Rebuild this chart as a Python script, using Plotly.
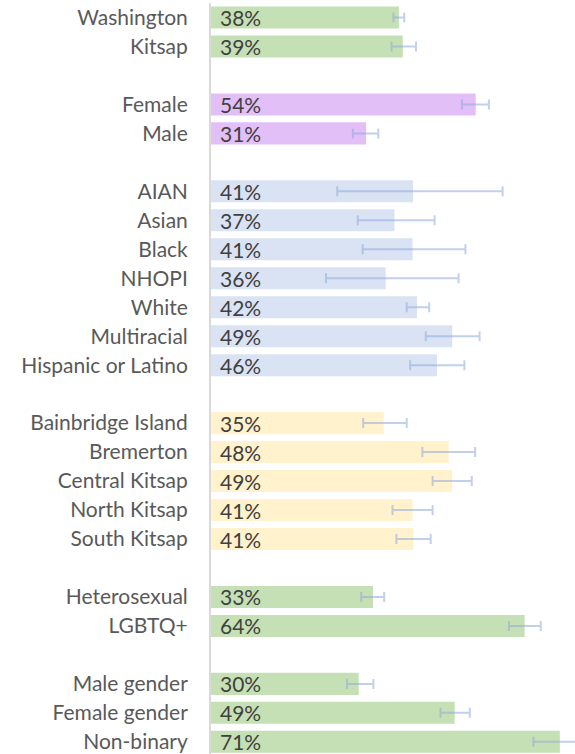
import plotly.graph_objects as go

# Groups of categories (a blank row separates groups)
groups = [
    ["Washington", "Kitsap"],
    ["Female", "Male"],
    ["AIAN", "Asian", "Black", "NHOPI", "White", "Multiracial", "Hispanic or Latino"],
    ["Bainbridge Island", "Bremerton", "Central Kitsap", "North Kitsap", "South Kitsap"],
    ["Heterosexual", "LGBTQ+"],
    ["Male gender", "Female gender", "Non-binary"],
]
values = [
    [38.4, 39.2],
    [54.1, 31.7],
    [41.3, 37.5, 41.2, 35.7, 42.1, 49.3, 46.2],
    [35.3, 48.6, 49.3, 41.2, 41.4],
    [33.1, 64.1],
    [30.2, 49.8, 71.3],
]
low = [
    [37.3, 36.9],
    [51.3, 29.0],
    [25.8, 30.0, 31.0, 23.5, 40.0, 43.9, 40.7],
    [31.1, 43.2, 45.3, 37.1, 37.9],
    [30.7, 60.9],
    [27.8, 46.9, 65.9],
]
high = [
    [39.5, 41.9],
    [56.8, 34.2],
    [59.6, 45.7, 52.0, 50.6, 44.6, 54.9, 51.8],
    [40.0, 54.0, 53.3, 45.3, 44.9],
    [35.4, 67.4],
    [33.2, 52.9, 78.0],
]
labels = [
    ["38%", "39%"],
    ["54%", "31%"],
    ["41%", "37%", "41%", "36%", "42%", "49%", "46%"],
    ["35%", "48%", "49%", "41%", "41%"],
    ["33%", "64%"],
    ["30%", "49%", "71%"],
]
colors = ["#c5e0b4", "#e2bff7", "#dae3f3", "#fff2cc", "#c5e0b4", "#c5e0b4"]

FONT = "Lato"

fig = go.Figure()
tickvals, ticktext = [], []
annotations = []
pos = 0
for gi, cats in enumerate(groups):
    ys = list(range(pos, pos + len(cats)))
    v = values[gi]
    fig.add_trace(go.Bar(
        y=ys, x=v, orientation="h",
        marker=dict(color=colors[gi], line=dict(width=0)),
        error_x=dict(type="data", symmetric=False,
                     array=[h - a for h, a in zip(high[gi], v)],
                     arrayminus=[a - l for a, l in zip(v, low[gi])],
                     color="rgba(143,170,220,0.55)", thickness=2, width=5),
        hoverinfo="skip", showlegend=False,
    ))
    for y, t in zip(ys, labels[gi]):
        annotations.append(dict(
            x=0, y=y, xref="x", yref="y", text=t, showarrow=False,
            xanchor="left", yanchor="middle", xshift=7, yshift=0,
            font=dict(family=FONT, size=21, color="#404040"),
        ))
    tickvals += ys
    ticktext += cats
    pos += len(cats) + 1

fig.update_layout(
    width=575, height=754,
    margin=dict(l=211, r=0, t=3, b=0),
    plot_bgcolor="white", paper_bgcolor="white",
    bargap=0.24,
    annotations=annotations,
    xaxis=dict(range=[0, 74.4], visible=False, fixedrange=True),
    yaxis=dict(
        range=[pos - 2 + 0.42, -0.5], tickvals=tickvals, ticktext=ticktext,
        tickfont=dict(family=FONT, size=21, color="#595959"),
        ticklabeloverflow="allow",
        showgrid=False, zeroline=False, ticks="", ticklabelstandoff=17,
        showline=True, linecolor="#d9d9d9", linewidth=2,
    ),
)
fig.write_html("out.html", config={"displayModeBar": False},
               post_script="document.body.style.margin='0';document.body.style.overflow='hidden';")
